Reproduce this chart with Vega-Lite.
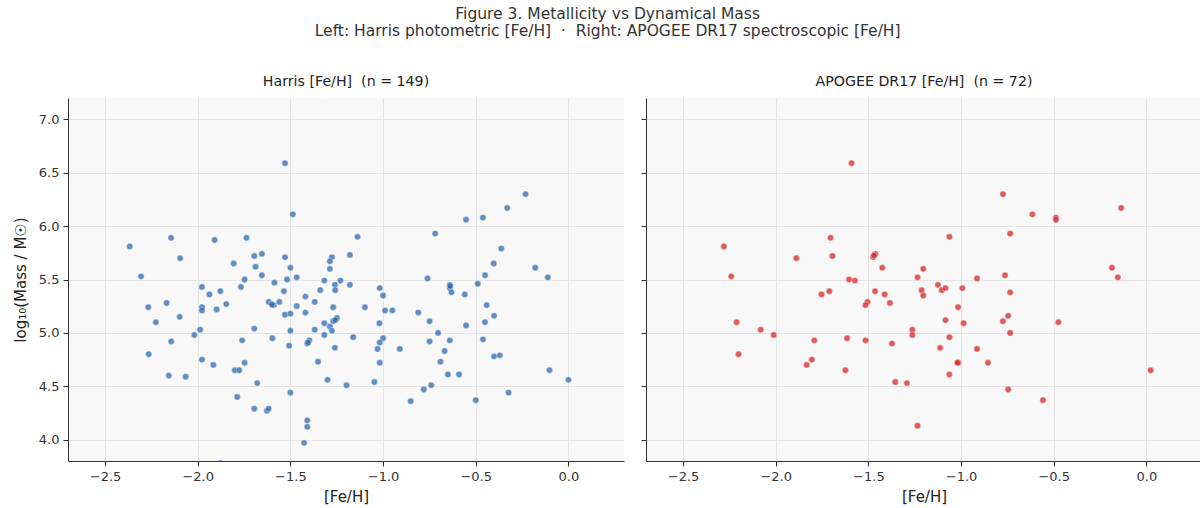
{
  "$schema": "https://vega.github.io/schema/vega-lite/v6.json",
  "padding": {"left": 13, "top": 6, "right": 0, "bottom": 4},
  "background": "white",
  "title": {
    "text": "Figure 3. Metallicity vs Dynamical Mass",
    "subtitle": "Left: Harris photometric [Fe/H]\u00a0 · \u00a0Right: APOGEE DR17 spectroscopic [Fe/H]",
    "font": "DejaVu Sans", "subtitleFont": "DejaVu Sans",
    "fontSize": 15.5, "subtitleFontSize": 15.5, "fontWeight": "normal",
    "color": "#333333", "subtitleColor": "#333333",
    "anchor": "middle", "offset": 35, "subtitlePadding": 2
  },
  "config": {
    "font": "DejaVu Sans",
    "view": {"stroke": null, "fill": "#f8f8f8"},
    "axis": {
      "gridColor": "#e4e4e4", "gridWidth": 1,
      "domainColor": "#333333", "tickColor": "#333333",
      "labelColor": "#333333", "titleColor": "#222222",
      "labelFontSize": 13, "titleFontSize": 15, "titleFontWeight": "normal",
      "labelFont": "DejaVu Sans", "titleFont": "DejaVu Sans",
      "tickSize": 5, "labelPadding": 4
    }
  },
  "datasets": {
    "harris": [
      {"feh": -2.367, "logm": 5.81}, {"feh": -2.144, "logm": 5.89}, {"feh": -2.095, "logm": 5.70}, {"feh": -2.306, "logm": 5.53},
      {"feh": -1.909, "logm": 5.87}, {"feh": -1.737, "logm": 5.89}, {"feh": -1.695, "logm": 5.72}, {"feh": -1.654, "logm": 5.74},
      {"feh": -1.806, "logm": 5.65}, {"feh": -1.688, "logm": 5.62}, {"feh": -1.654, "logm": 5.54}, {"feh": -1.747, "logm": 5.50},
      {"feh": -1.767, "logm": 5.43}, {"feh": -1.977, "logm": 5.43}, {"feh": -1.937, "logm": 5.36}, {"feh": -1.878, "logm": 5.39},
      {"feh": -1.846, "logm": 5.27}, {"feh": -1.977, "logm": 5.24}, {"feh": -1.977, "logm": 5.21}, {"feh": -1.898, "logm": 5.22},
      {"feh": -2.168, "logm": 5.28}, {"feh": -2.267, "logm": 5.24}, {"feh": -2.226, "logm": 5.10}, {"feh": -2.097, "logm": 5.15},
      {"feh": -1.987, "logm": 5.03}, {"feh": -2.018, "logm": 4.98}, {"feh": -1.695, "logm": 5.04}, {"feh": -2.143, "logm": 4.92},
      {"feh": -1.760, "logm": 4.93}, {"feh": -2.265, "logm": 4.80}, {"feh": -1.977, "logm": 4.75}, {"feh": -1.916, "logm": 4.70},
      {"feh": -1.747, "logm": 4.72}, {"feh": -1.800, "logm": 4.65}, {"feh": -1.776, "logm": 4.65}, {"feh": -2.156, "logm": 4.60},
      {"feh": -2.065, "logm": 4.59}, {"feh": -1.679, "logm": 4.53}, {"feh": -1.787, "logm": 4.40}, {"feh": -1.695, "logm": 4.29},
      {"feh": -1.878, "logm": 3.78},
      {"feh": -1.529, "logm": 6.59}, {"feh": -1.487, "logm": 6.11}, {"feh": -1.138, "logm": 5.90}, {"feh": -0.719, "logm": 5.93},
      {"feh": -1.529, "logm": 5.71}, {"feh": -1.500, "logm": 5.61}, {"feh": -1.276, "logm": 5.71}, {"feh": -1.287, "logm": 5.67},
      {"feh": -1.179, "logm": 5.73}, {"feh": -1.287, "logm": 5.60}, {"feh": -1.586, "logm": 5.47}, {"feh": -1.518, "logm": 5.50},
      {"feh": -1.466, "logm": 5.52}, {"feh": -1.317, "logm": 5.49}, {"feh": -1.230, "logm": 5.49}, {"feh": -1.260, "logm": 5.45},
      {"feh": -1.258, "logm": 5.40}, {"feh": -1.339, "logm": 5.40}, {"feh": -1.179, "logm": 5.45}, {"feh": -1.535, "logm": 5.39},
      {"feh": -1.419, "logm": 5.34}, {"feh": -1.369, "logm": 5.29}, {"feh": -1.018, "logm": 5.42}, {"feh": -1.000, "logm": 5.35},
      {"feh": -0.760, "logm": 5.51}, {"feh": -1.617, "logm": 5.29}, {"feh": -1.598, "logm": 5.27}, {"feh": -1.590, "logm": 5.26},
      {"feh": -1.560, "logm": 5.29}, {"feh": -1.466, "logm": 5.25}, {"feh": -1.269, "logm": 5.24}, {"feh": -1.098, "logm": 5.24},
      {"feh": -0.989, "logm": 5.21}, {"feh": -0.950, "logm": 5.21}, {"feh": -1.529, "logm": 5.17}, {"feh": -1.500, "logm": 5.18},
      {"feh": -1.419, "logm": 5.19}, {"feh": -1.317, "logm": 5.09}, {"feh": -1.269, "logm": 5.11}, {"feh": -1.249, "logm": 5.14},
      {"feh": -1.258, "logm": 5.12}, {"feh": -1.287, "logm": 5.06}, {"feh": -1.276, "logm": 5.02}, {"feh": -1.369, "logm": 5.03},
      {"feh": -1.317, "logm": 4.98}, {"feh": -1.500, "logm": 5.02}, {"feh": -1.597, "logm": 4.95}, {"feh": -1.507, "logm": 4.88},
      {"feh": -1.409, "logm": 4.90}, {"feh": -1.398, "logm": 4.93}, {"feh": -1.260, "logm": 4.86}, {"feh": -1.161, "logm": 4.96},
      {"feh": -1.020, "logm": 5.09}, {"feh": -1.000, "logm": 4.95}, {"feh": -1.018, "logm": 4.91}, {"feh": -1.030, "logm": 4.85},
      {"feh": -0.910, "logm": 4.85}, {"feh": -1.018, "logm": 4.72}, {"feh": -1.047, "logm": 4.54}, {"feh": -1.351, "logm": 4.73},
      {"feh": -1.300, "logm": 4.56}, {"feh": -1.197, "logm": 4.51}, {"feh": -1.500, "logm": 4.44}, {"feh": -1.627, "logm": 4.27},
      {"feh": -1.617, "logm": 4.29}, {"feh": -1.409, "logm": 4.18}, {"feh": -1.409, "logm": 4.12}, {"feh": -1.426, "logm": 3.97},
      {"feh": -0.810, "logm": 5.19}, {"feh": -0.749, "logm": 5.11}, {"feh": -0.703, "logm": 5.00}, {"feh": -0.749, "logm": 4.92},
      {"feh": -0.640, "logm": 4.93}, {"feh": -0.668, "logm": 4.83}, {"feh": -0.690, "logm": 4.73}, {"feh": -0.650, "logm": 4.61},
      {"feh": -0.740, "logm": 4.51}, {"feh": -0.780, "logm": 4.47}, {"feh": -0.851, "logm": 4.36},
      {"feh": -0.231, "logm": 6.30}, {"feh": -0.330, "logm": 6.17}, {"feh": -0.552, "logm": 6.06}, {"feh": -0.461, "logm": 6.08},
      {"feh": -0.362, "logm": 5.79}, {"feh": -0.403, "logm": 5.65}, {"feh": -0.179, "logm": 5.61}, {"feh": -0.111, "logm": 5.52},
      {"feh": -0.450, "logm": 5.54}, {"feh": -0.489, "logm": 5.46}, {"feh": -0.640, "logm": 5.45}, {"feh": -0.640, "logm": 5.42},
      {"feh": -0.631, "logm": 5.38}, {"feh": -0.559, "logm": 5.36}, {"feh": -0.441, "logm": 5.26}, {"feh": -0.401, "logm": 5.16},
      {"feh": -0.450, "logm": 5.10}, {"feh": -0.552, "logm": 5.07}, {"feh": -0.590, "logm": 4.61}, {"feh": -0.461, "logm": 4.94},
      {"feh": -0.401, "logm": 4.78}, {"feh": -0.370, "logm": 4.79}, {"feh": -0.500, "logm": 4.37}, {"feh": -0.323, "logm": 4.44},
      {"feh": -0.102, "logm": 4.65}, {"feh": 0.000, "logm": 4.56},
      {"feh": -1.600, "logm": 5.265}, {"feh": -0.638, "logm": 5.44}, {"feh": -1.405, "logm": 4.91}
    ],
    "apogee": [
      {"feh": -1.591, "logm": 6.59}, {"feh": -2.280, "logm": 5.81}, {"feh": -2.240, "logm": 5.53}, {"feh": -1.889, "logm": 5.70},
      {"feh": -1.704, "logm": 5.89}, {"feh": -1.694, "logm": 5.72}, {"feh": -1.475, "logm": 5.71}, {"feh": -1.462, "logm": 5.74},
      {"feh": -1.425, "logm": 5.61}, {"feh": -1.604, "logm": 5.50}, {"feh": -1.573, "logm": 5.49}, {"feh": -1.753, "logm": 5.36},
      {"feh": -1.711, "logm": 5.39}, {"feh": -1.464, "logm": 5.39}, {"feh": -1.412, "logm": 5.36}, {"feh": -1.384, "logm": 5.28},
      {"feh": -1.505, "logm": 5.29}, {"feh": -1.516, "logm": 5.26}, {"feh": -1.235, "logm": 5.52}, {"feh": -1.204, "logm": 5.60},
      {"feh": -1.213, "logm": 5.40}, {"feh": -1.204, "logm": 5.35}, {"feh": -0.774, "logm": 6.30}, {"feh": -0.615, "logm": 6.11},
      {"feh": -0.488, "logm": 6.08}, {"feh": -0.488, "logm": 6.06}, {"feh": -0.136, "logm": 6.17}, {"feh": -1.063, "logm": 5.90},
      {"feh": -0.735, "logm": 5.93}, {"feh": -0.186, "logm": 5.61}, {"feh": -0.154, "logm": 5.52}, {"feh": -1.125, "logm": 5.45},
      {"feh": -1.104, "logm": 5.40}, {"feh": -1.084, "logm": 5.42}, {"feh": -0.993, "logm": 5.42}, {"feh": -0.914, "logm": 5.51},
      {"feh": -0.763, "logm": 5.54}, {"feh": -0.735, "logm": 5.38}, {"feh": -1.016, "logm": 5.24}, {"feh": -2.211, "logm": 5.10},
      {"feh": -2.081, "logm": 5.03}, {"feh": -2.011, "logm": 4.98}, {"feh": -2.201, "logm": 4.80}, {"feh": -1.792, "logm": 4.93},
      {"feh": -1.833, "logm": 4.70}, {"feh": -1.805, "logm": 4.75}, {"feh": -1.615, "logm": 4.95}, {"feh": -1.515, "logm": 4.93},
      {"feh": -1.624, "logm": 4.65}, {"feh": -1.373, "logm": 4.90}, {"feh": -1.263, "logm": 5.03}, {"feh": -1.263, "logm": 4.98},
      {"feh": -1.355, "logm": 4.54}, {"feh": -1.292, "logm": 4.53}, {"feh": -1.235, "logm": 4.13}, {"feh": -1.084, "logm": 5.12},
      {"feh": -0.986, "logm": 5.09}, {"feh": -0.774, "logm": 5.11}, {"feh": -0.746, "logm": 5.16}, {"feh": -0.475, "logm": 5.10},
      {"feh": -1.063, "logm": 4.96}, {"feh": -0.735, "logm": 5.00}, {"feh": -1.113, "logm": 4.86}, {"feh": -0.914, "logm": 4.85},
      {"feh": -1.014, "logm": 4.72}, {"feh": -1.020, "logm": 4.72}, {"feh": -0.855, "logm": 4.72}, {"feh": -1.063, "logm": 4.61},
      {"feh": -0.746, "logm": 4.47}, {"feh": -0.558, "logm": 4.37}, {"feh": 0.023, "logm": 4.65}, {"feh": -1.470, "logm": 5.725}
    ]
  },
  "spacing": 16,
  "hconcat": [
    {
      "width": 556, "height": 363,
      "title": {"text": "Harris [Fe/H]\u00a0 (n = 149)", "fontSize": 14.2, "fontWeight": "normal", "font": "DejaVu Sans", "color": "#222222", "offset": 9},
      "data": {"name": "harris"},
      "mark": {"type": "circle", "size": 40, "fill": "#2f6aad", "fillOpacity": 0.75, "stroke": "#ffffff", "strokeWidth": 0.5, "strokeOpacity": 0.8, "clip": true},
      "encoding": {
        "x": {"field": "feh", "type": "quantitative", "scale": {"domain": [-2.7, 0.3], "nice": false, "zero": false},
              "axis": {"values": [-2.5, -2.0, -1.5, -1.0, -0.5, 0.0], "format": ".1f", "title": "[Fe/H]", "titlePadding": 6}},
        "y": {"field": "logm", "type": "quantitative", "scale": {"domain": [3.8, 7.2], "nice": false, "zero": false},
              "axis": {"values": [4.0, 4.5, 5.0, 5.5, 6.0, 6.5, 7.0], "format": ".1f", "title": "log₁₀(Mass / M☉)", "titlePadding": 10}}
      }
    },
    {
      "width": 556, "height": 363,
      "title": {"text": "APOGEE DR17 [Fe/H]\u00a0 (n = 72)", "fontSize": 14.2, "fontWeight": "normal", "font": "DejaVu Sans", "color": "#222222", "offset": 9},
      "data": {"name": "apogee"},
      "mark": {"type": "circle", "size": 40, "fill": "#d62728", "fillOpacity": 0.75, "stroke": "#ffffff", "strokeWidth": 0.5, "strokeOpacity": 0.8, "clip": true},
      "encoding": {
        "x": {"field": "feh", "type": "quantitative", "scale": {"domain": [-2.7, 0.3], "nice": false, "zero": false},
              "axis": {"values": [-2.5, -2.0, -1.5, -1.0, -0.5, 0.0], "format": ".1f", "title": "[Fe/H]", "titlePadding": 6}},
        "y": {"field": "logm", "type": "quantitative", "scale": {"domain": [3.8, 7.2], "nice": false, "zero": false},
              "axis": {"values": [4.0, 4.5, 5.0, 5.5, 6.0, 6.5, 7.0], "labels": false, "title": null}}
      }
    }
  ]
}
